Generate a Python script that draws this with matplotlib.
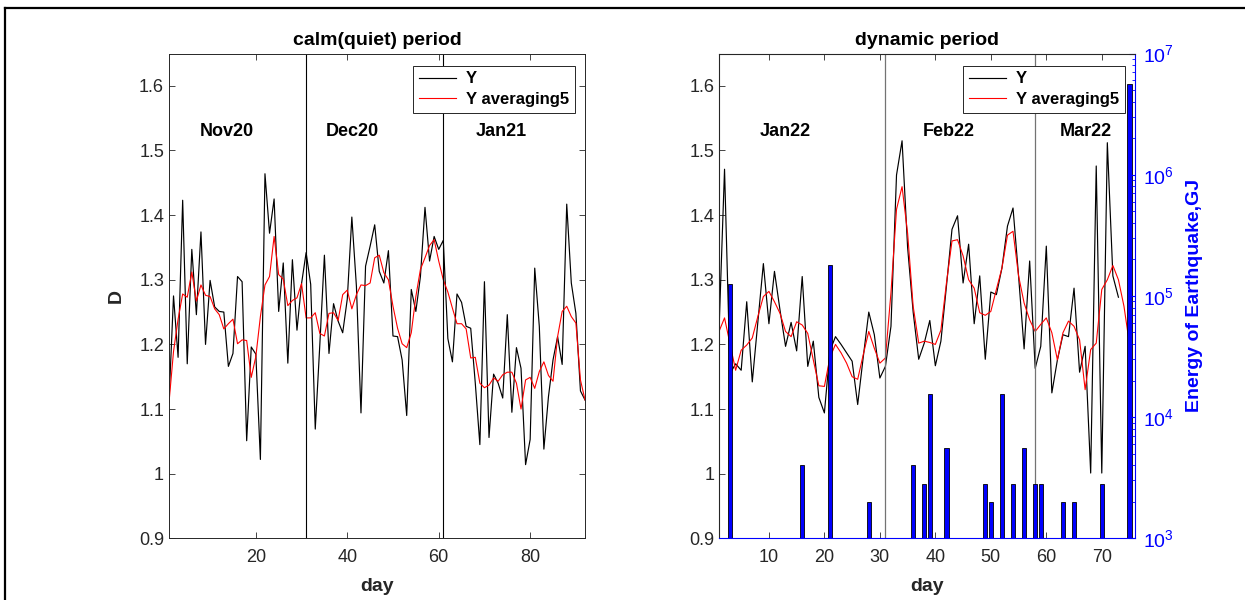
import matplotlib.pyplot as plt
from matplotlib.lines import Line2D
from matplotlib.ticker import FormatStrFormatter, LogLocator, NullFormatter

plt.rcParams['font.family'] = ['Liberation Sans', 'DejaVu Sans']

# calm period: Nov20 - Jan21, days 1..92
calm_y = [1.11, 1.275, 1.18, 1.423, 1.17, 1.347, 1.246, 1.374, 1.20, 1.299,
          1.258, 1.251, 1.25, 1.166, 1.186, 1.305, 1.297, 1.051, 1.196, 1.185,
          1.022, 1.464, 1.372, 1.425, 1.251, 1.326, 1.171, 1.331, 1.222, 1.294,
          1.342, 1.293, 1.069, 1.20, 1.338, 1.186, 1.263, 1.236, 1.218, 1.27,
          1.397, 1.29, 1.094, 1.321, 1.352, 1.385, 1.313, 1.295, 1.345, 1.213,
          1.212, 1.176, 1.090, 1.285, 1.251, 1.305, 1.412, 1.329, 1.367, 1.347,
          1.361, 1.209, 1.173, 1.278, 1.265, 1.228, 1.225, 1.14, 1.045, 1.297,
          1.056, 1.154, 1.140, 1.117, 1.246, 1.095, 1.195, 1.163, 1.014, 1.053,
          1.318, 1.228, 1.038, 1.119, 1.176, 1.212, 1.169, 1.417, 1.295, 1.248,
          1.128, 1.114]
calm_avg = [1.109, 1.189, 1.239, 1.278, 1.273, 1.312, 1.267, 1.292, 1.276, 1.274,
            1.255, 1.246, 1.224, 1.232, 1.239, 1.201, 1.207, 1.206, 1.149, 1.181,
            1.243, 1.292, 1.305, 1.367, 1.308, 1.301, 1.260, 1.268, 1.272, 1.294,
            1.241, 1.241, 1.249, 1.217, 1.213, 1.248, 1.249, 1.237, 1.277, 1.284,
            1.255, 1.277, 1.292, 1.291, 1.295, 1.334, 1.338, 1.311, 1.300, 1.259,
            1.225, 1.201, 1.195, 1.218, 1.274, 1.316, 1.334, 1.353, 1.362, 1.329,
            1.300, 1.281, 1.256, 1.232, 1.232, 1.224, 1.179, 1.180, 1.140, 1.133,
            1.137, 1.148, 1.143, 1.153, 1.157, 1.157, 1.140, 1.100, 1.145, 1.149,
            1.132, 1.158, 1.173, 1.152, 1.143, 1.212, 1.251, 1.259, 1.243, 1.233,
            1.145, 1.114]
calm_days = list(range(1, len(calm_y) + 1))

# dynamic period: Jan22 - Mar22
dyn_y = [1.22, 1.471, 1.155, 1.17, 1.16, 1.266, 1.142, 1.234, 1.325, 1.232,
         1.313, 1.253, 1.197, 1.234, 1.190, 1.305, 1.166, 1.205, 1.118, 1.094,
         1.19, 1.212, 1.200, 1.187, 1.174, 1.107, 1.18, 1.250, 1.215, 1.148,
         1.166, 1.228, 1.462, 1.515, 1.35, 1.25, 1.177, 1.202, 1.237, 1.167,
         1.205, 1.29, 1.378, 1.399, 1.295, 1.355, 1.232, 1.306, 1.177, 1.281,
         1.277, 1.318, 1.383, 1.411, 1.306, 1.193, 1.329, 1.163, 1.197, 1.352,
         1.125, 1.176, 1.215, 1.212, 1.287, 1.157, 1.197, 1.001, 1.476, 1.001,
         1.512, 1.306, 1.273]
dyn_avg = [1.220, 1.241, 1.20, 1.160, 1.191, 1.199, 1.210, 1.243, 1.274, 1.282,
           1.266, 1.248, 1.220, 1.212, 1.235, 1.230, 1.217, 1.176, 1.136, 1.135,
           1.18, 1.20, 1.187, 1.171, 1.150, 1.146, 1.184, 1.220, 1.194, 1.171,
           1.179, 1.280, 1.409, 1.444, 1.372, 1.259, 1.202, 1.205, 1.203, 1.20,
           1.222, 1.295, 1.360, 1.362, 1.337, 1.300, 1.287, 1.249, 1.245, 1.251,
           1.285, 1.318, 1.369, 1.375, 1.306, 1.264, 1.238, 1.220, 1.231, 1.241,
           1.218, 1.176, 1.218, 1.236, 1.228, 1.207, 1.130, 1.192, 1.202, 1.285,
           1.300, 1.322, 1.300, 1.259, 1.20]
dyn_days = list(range(1, len(dyn_y) + 1))
dyn_avg_days = list(range(1, len(dyn_avg) + 1))

# earthquake energy (GJ)
quake_days = [3, 16, 21, 28, 36, 38, 39, 42, 49, 50, 52, 54, 56, 58, 59, 63, 65, 70, 75]
quake_energy = [1.26e5, 4.0e3, 1.8e5, 2.0e3, 4.0e3, 2.8e3, 1.56e4, 5.6e3, 2.8e3, 2.0e3,
                1.56e4, 2.8e3, 5.6e3, 2.8e3, 2.8e3, 2.0e3, 2.0e3, 2.8e3, 5.65e6]

calm_months = ['Nov20', 'Dec20', 'Jan21']
calm_month_x = [13.6, 41, 73.6]
calm_splits = [31, 61]
dyn_months = ['Jan22', 'Feb22', 'Mar22']
dyn_month_x = [13, 42.4, 67.1]
dyn_splits = [31, 58]

fig = plt.figure(figsize=(12.45, 6), dpi=100)
ax1 = fig.add_axes([0.1357, 0.1028, 0.3342, 0.808])
ax2 = fig.add_axes([0.5775, 0.1028, 0.3342, 0.808])

dark = '0.15'


def style_axes(ax, xmax, xticks, right_ticks=True):
    ax.set_xlim(1, xmax)
    ax.set_ylim(0.9, 1.65)
    ax.set_xticks(xticks)
    ax.set_yticks([0.9, 1.0, 1.1, 1.2, 1.3, 1.4, 1.5, 1.6])
    ax.yaxis.set_major_formatter(FormatStrFormatter('%g'))
    ax.tick_params(direction='in', top=True, right=right_ticks, length=4,
                   labelsize=13, colors=dark, width=0.6)
    ax.tick_params(axis='x', pad=8)
    for s in ax.spines.values():
        s.set_color(dark)
        s.set_linewidth(0.7)
    ax.set_xlabel('day', fontsize=14, fontweight='bold', color=dark, labelpad=8)


def add_legend(ax):
    leg = ax.legend(loc='upper right', bbox_to_anchor=(0.975, 0.975),
                    prop={'weight': 'bold', 'size': 12}, fancybox=False, framealpha=1,
                    edgecolor=dark, handlelength=2.2, borderpad=0.35, labelspacing=0.35,
                    handletextpad=0.6, borderaxespad=0)
    leg.get_frame().set_linewidth(0.7)


# left panel
ax1.plot(calm_days, calm_y, color='k', lw=0.85, label='Y')
ax1.plot(calm_days, calm_avg, color='red', lw=0.8, label='Y averaging5')
for s in calm_splits:
    ax1.axvline(s, color='k', lw=0.8)
for name, xm in zip(calm_months, calm_month_x):
    ax1.text(xm, 1.53, name, ha='center', va='center', fontsize=13, fontweight='bold')
style_axes(ax1, 92, [20, 40, 60, 80])
ax1.set_ylabel('D', fontsize=14, fontweight='bold', color=dark, labelpad=10)
ax1.set_title('calm(quiet) period', fontsize=14, fontweight='bold', pad=6)
add_legend(ax1)

# right panel
ax2.plot(dyn_days, dyn_y, color='k', lw=0.85, label='Y')
ax2.plot(dyn_avg_days, dyn_avg, color='red', lw=0.8, label='Y averaging5')
for s in dyn_splits:
    ax2.axvline(s, color='0.45', lw=0.9)
for name, xm in zip(dyn_months, dyn_month_x):
    ax2.text(xm, 1.53, name, ha='center', va='center', fontsize=13, fontweight='bold')
style_axes(ax2, 76, [10, 20, 30, 40, 50, 60, 70], right_ticks=False)
ax2.set_title('dynamic period', fontsize=14, fontweight='bold', pad=6)
add_legend(ax2)

axe = ax2.twinx()
axe.bar(quake_days, quake_energy, width=0.8, color='blue', edgecolor='k', linewidth=0.6)
axe.set_yscale('log')
axe.set_ylim(1e3, 1e7)
axe.set_xlim(1, 76)
axe.yaxis.set_major_locator(LogLocator(base=10, numticks=10))
axe.yaxis.set_minor_locator(LogLocator(base=10, subs=range(2, 10), numticks=10))
axe.yaxis.set_minor_formatter(NullFormatter())
axe.tick_params(axis='y', which='both', direction='in', colors='blue', labelsize=14, pad=6)
axe.tick_params(axis='y', which='major', length=4)
axe.tick_params(axis='y', which='minor', length=2)
axe.spines['right'].set_color('blue')
axe.spines['bottom'].set_color('blue')
axe.spines['top'].set_color(dark)
axe.spines['left'].set_color(dark)
axe.set_ylabel('Energy of Earthquake,GJ', fontsize=14, fontweight='bold', color='blue',
               labelpad=8)

# figure border
fig.add_artist(Line2D([0.004, 1.0], [0.9867, 0.9867], color='k', lw=1.6))
fig.add_artist(Line2D([0.004, 0.004], [0.0, 0.9867], color='k', lw=1.6))

fig.savefig('out.png', dpi=100)
